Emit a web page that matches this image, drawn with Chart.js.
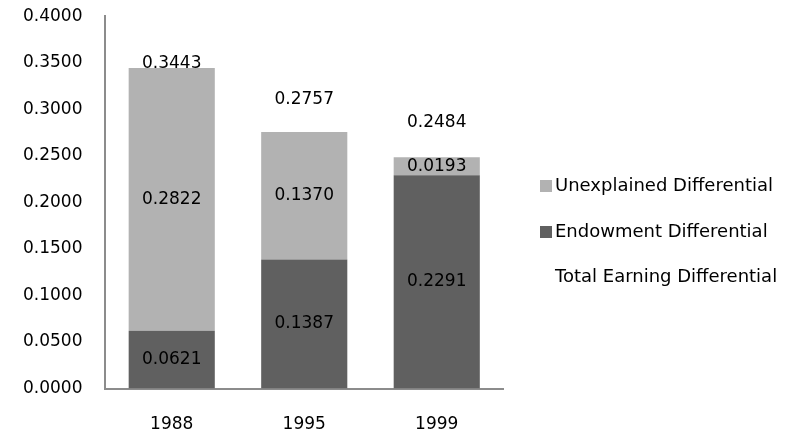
<!DOCTYPE html>
<html>
<head>
<meta charset="utf-8">
<script src="https://cdn.jsdelivr.net/npm/chart.js@4/dist/chart.umd.min.js"></script>
<style>
  html, body { margin: 0; padding: 0; background: #fff; }
  #wrap { width: 794px; height: 441px; position: relative; overflow: hidden; }
  #diffChart { display: block; position: absolute; left: 0; top: -17px; }
  #legend {
    position: absolute; left: 540px; top: 172px;
    font-family: "DejaVu Sans"; font-size: 18px; color: #000;
  }
  #legend .item { height: 45.5px; line-height: 26px; white-space: nowrap; }
  #legend .box {
    display: inline-block; width: 12px; height: 12px;
    margin-right: 3px; vertical-align: -1px;
  }
</style>
</head>
<body>
<div id="wrap">
  <canvas id="diffChart" width="794" height="458"></canvas>
  <div id="legend"></div>
</div>
<script>
// earnings differential decomposition by year
const years = ['1988', '1995', '1999'];
const endowment = [0.0621, 0.1387, 0.2291];
const unexplained = [0.2822, 0.1370, 0.0193];
const totals = [0.3443, 0.2757, 0.2484];
const yTicks = [0, 0.05, 0.1, 0.15, 0.2, 0.25, 0.3, 0.35, 0.4];

// how far each total label sits above its bar top (px)
const totalLift = [4, 32, 35];

const FONT = 'DejaVu Sans';

// writes the value inside each bar segment and above each total point
const valueLabels = {
  id: 'valueLabels',
  afterDatasetsDraw(chart) {
    const ctx = chart.ctx;
    ctx.save();
    ctx.font = '17px "' + FONT + '"';
    ctx.fillStyle = '#000';
    ctx.textAlign = 'center';
    ctx.textBaseline = 'middle';
    chart.data.datasets.forEach((ds, i) => {
      const meta = chart.getDatasetMeta(i);
      meta.data.forEach((el, j) => {
        const v = ds.data[j];
        const y = ds.type === 'line' ? el.y - totalLift[j] : (el.y + el.base) / 2;
        ctx.fillText(v.toFixed(4), el.x, y);
      });
    });
    ctx.restore();
  }
};

const chart = new Chart(document.getElementById('diffChart'), {
  type: 'bar',
  data: {
    labels: years,
    datasets: [
      {
        label: 'Endowment Differential',
        data: endowment,
        backgroundColor: '#606060',
        legendRank: 2
      },
      {
        label: 'Unexplained Differential',
        data: unexplained,
        backgroundColor: '#b2b2b2',
        legendRank: 1
      },
      {
        type: 'line',
        label: 'Total Earning Differential',
        data: totals,
        yAxisID: 'yTotal',
        showLine: false,
        pointRadius: 0,
        borderColor: 'rgba(0,0,0,0)',
        backgroundColor: 'rgba(0,0,0,0)',
        legendRank: 3
      }
    ]
  },
  options: {
    responsive: false,
    animation: false,
    layout: { padding: { left: 0, top: 0, right: 291, bottom: -20 } },
    datasets: { bar: { barPercentage: 0.65, categoryPercentage: 1 } },
    scales: {
      x: {
        stacked: true,
        grid: { display: false, drawTicks: false },
        border: { color: '#8c8c8c', width: 2 },
        ticks: { color: '#000', font: { family: FONT, size: 17 }, padding: 26 }
      },
      y: {
        stacked: true,
        min: 0,
        max: 0.4,
        afterBuildTicks: axis => { axis.ticks = yTicks.map(v => ({ value: v })); },
        grid: { display: false, drawTicks: false },
        border: { color: '#8c8c8c', width: 2 },
        ticks: {
          color: '#000',
          font: { family: FONT, size: 17 },
          padding: 23,
          callback: v => Number(v).toFixed(4)
        }
      },
      yTotal: { display: false, min: 0, max: 0.4 }
    },
    plugins: {
      tooltip: { enabled: false },
      legend: { display: false }
    }
  },
  plugins: [valueLabels]
});

// side legend: unexplained, endowment, then the total (no swatch)
const legendEl = document.getElementById('legend');
chart.data.datasets
  .slice()
  .sort((a, b) => a.legendRank - b.legendRank)
  .forEach(ds => {
    const row = document.createElement('div');
    row.className = 'item';
    const box = document.createElement('span');
    box.className = 'box';
    box.style.background = ds.type === 'line' ? 'transparent' : ds.backgroundColor;
    row.appendChild(box);
    row.appendChild(document.createTextNode(ds.label));
    legendEl.appendChild(row);
  });
</script>
</body>
</html>
